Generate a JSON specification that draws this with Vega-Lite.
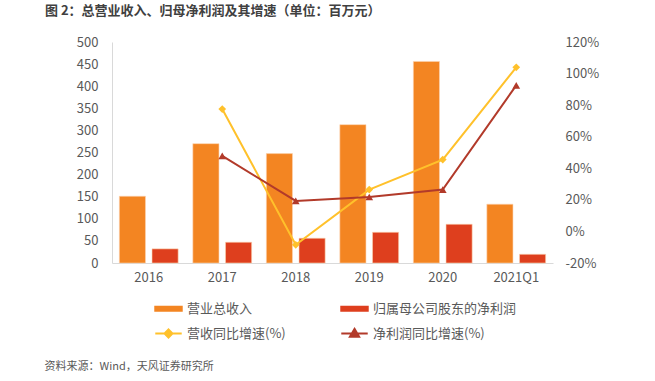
{
  "$schema": "https://vega.github.io/schema/vega-lite/v6.json",
  "width": 441,
  "height": 221,
  "autosize": {"type": "none"},
  "padding": {"left": 112, "top": 42, "right": 102, "bottom": 118},
  "background": "white",
  "config": {
    "view": {"stroke": null},
    "font": "Noto Sans CJK SC",
    "axis": {"labelFont": "Noto Sans CJK SC", "labelColor": "#595959", "labelFontSize": 13, "grid": false, "ticks": false}
  },
  "title": {
    "text": "图 2：总营业收入、归母净利润及其增速（单位：百万元）",
    "anchor": "start",
    "frame": "group",
    "dx": -67,
    "dy": -10,
    "fontSize": 13,
    "fontWeight": "bold",
    "color": "#404040",
    "font": "Noto Sans CJK SC",
    "offset": 8
  },
  "data": {
    "values": [
      {"year": "2016", "营业总收入": 151, "归属母公司股东的净利润": 32, "营收同比增速(%)": null, "净利润同比增速(%)": null},
      {"year": "2017", "营业总收入": 270, "归属母公司股东的净利润": 47, "营收同比增速(%)": 77.5, "净利润同比增速(%)": 47.8},
      {"year": "2018", "营业总收入": 247.5, "归属母公司股东的净利润": 56, "营收同比增速(%)": -8.5, "净利润同比增速(%)": 19.3},
      {"year": "2019", "营业总收入": 313, "归属母公司股东的净利润": 69.5, "营收同比增速(%)": 26.5, "净利润同比增速(%)": 21.8},
      {"year": "2020", "营业总收入": 456, "归属母公司股东的净利润": 87.6, "营收同比增速(%)": 45.5, "净利润同比增速(%)": 26.5},
      {"year": "2021Q1", "营业总收入": 133, "归属母公司股东的净利润": 19.7, "营收同比增速(%)": 104, "净利润同比增速(%)": 92.5}
    ]
  },
  "encoding": {
    "x": {
      "field": "year",
      "type": "nominal",
      "sort": null,
      "scale": {"paddingInner": 0.2, "paddingOuter": 0.1},
      "axis": {
        "labelAngle": 0,
        "labelPadding": 8,
        "domainColor": "#d9d9d9",
        "domainWidth": 1,
        "title": "资料来源：Wind，天风证券研究所",
        "titleX": -68,
        "titleY": 103,
        "titleAlign": "left",
        "titleAnchor": null,
        "titleBaseline": "middle",
        "titleFontSize": 11,
        "titleFontWeight": "normal",
        "titleColor": "#595959",
        "titleFont": "Noto Sans CJK SC"
      }
    }
  },
  "layer": [
    {
      "transform": [{"fold": ["营业总收入", "归属母公司股东的净利润"], "as": ["series", "value"]}],
      "mark": {"type": "bar", "stroke": "#fbd3b0", "strokeWidth": 0.6},
      "encoding": {
        "xOffset": {"field": "series", "type": "nominal", "sort": ["营业总收入", "归属母公司股东的净利润"], "scale": {"paddingInner": 0.2, "paddingOuter": 0}},
        "y": {
          "field": "value",
          "type": "quantitative",
          "scale": {"domain": [0, 500], "nice": false},
          "axis": {"orient": "left", "values": [0, 50, 100, 150, 200, 250, 300, 350, 400, 450, 500], "title": null, "domainColor": "#d9d9d9", "labelPadding": 14}
        },
        "color": {
          "field": "series",
          "type": "nominal",
          "scale": {
            "domain": ["营业总收入", "归属母公司股东的净利润", "营收同比增速(%)", "净利润同比增速(%)"],
            "range": ["#F38522", "#DE3F1E", "#FFC12B", "#B23A2A"]
          },
          "legend": {
            "title": null,
            "orient": "none",
            "direction": "horizontal",
            "legendX": 42,
            "legendY": 252,
            "columns": 2,
            "columnPadding": 51,
            "rowPadding": 3,
            "padding": 0,
            "labelFont": "Noto Sans CJK SC",
            "labelFontSize": 13,
            "labelColor": "#595959",
            "labelOffset": 4,
            "labelLimit": 300,
            "symbolSize": 700,
            "symbolType": {"expr": "datum.value === '营业总收入' || datum.value === '归属母公司股东的净利润' ? 'M-1,-0.15H1V0.15H-1Z' : (datum.value === '营收同比增速(%)' ? 'M-1,0H1M0,-0.3L0.3,0L0,0.3L-0.3,0Z' : 'M-1,0H1M0,-0.35L0.35,0.25L-0.35,0.25Z')"},
            "symbolStrokeWidth": 2,
            "symbolStrokeColor": {"expr": "scale('color', datum.value)"},
            "symbolFillColor": {"expr": "scale('color', datum.value)"},
            "symbolOpacity": 1
          }
        }
      }
    },
    {
      "transform": [
        {"fold": ["营收同比增速(%)", "净利润同比增速(%)"], "as": ["series", "value"]},
        {"filter": "datum.value != null"}
      ],
      "encoding": {
        "y": {
          "field": "value",
          "type": "quantitative",
          "scale": {"domain": [-20, 120], "nice": false},
          "axis": {"orient": "right", "values": [-20, 0, 20, 40, 60, 80, 100, 120], "labelExpr": "datum.value + '%'", "title": null, "domain": false, "labelPadding": 12}
        },
        "color": {"field": "series", "type": "nominal", "legend": null}
      },
      "layer": [
        {"mark": {"type": "line", "strokeWidth": 2}},
        {
          "mark": {"type": "point", "filled": true, "opacity": 1, "size": 60},
          "encoding": {
            "shape": {"field": "series", "type": "nominal", "scale": {"domain": ["营收同比增速(%)", "净利润同比增速(%)"], "range": ["diamond", "triangle-up"]}, "legend": null}
          }
        }
      ]
    }
  ],
  "resolve": {"scale": {"y": "independent"}}
}
